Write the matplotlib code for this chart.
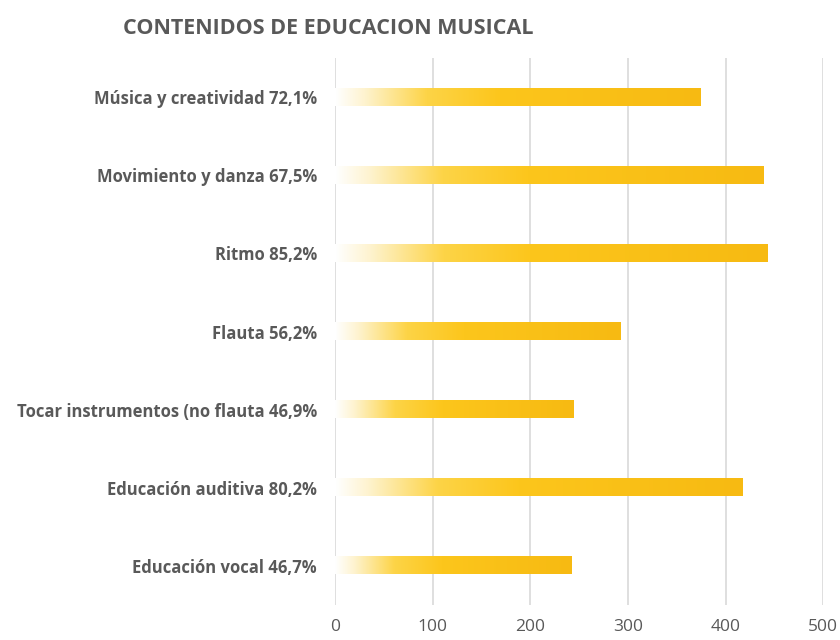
import matplotlib
matplotlib.use("Agg")
import matplotlib.pyplot as plt
import numpy as np
from matplotlib.colors import LinearSegmentedColormap

plt.rcParams['font.family'] = ['Open Sans', 'DejaVu Sans']

categorias = ["Música y creatividad 72,1%",
              "Movimiento y danza 67,5%",
              "Ritmo 85,2%",
              "Flauta 56,2%",
              "Tocar instrumentos (no flauta 46,9%",
              "Educación auditiva 80,2%",
              "Educación vocal 46,7%"]
valores = [374, 439, 443, 292, 244, 417, 242]
ticks_x = [0, 100, 200, 300, 400, 500]

gris = "#595959"
degradado = LinearSegmentedColormap.from_list(
    "oro", [(0.0, "#FFFFFF"), (0.08, "#FEF3CF"), (0.25, "#FDD447"),
            (0.45, "#FCC61C"), (1.0, "#F7BA12")])

fig = plt.figure(figsize=(8.4, 6.4), dpi=100)
ax = fig.add_axes([0.399, 0.055, 0.581, 0.854])

y = np.arange(len(categorias))
alto = 0.22
barras = ax.barh(y, valores, height=alto, color="none", edgecolor="none", zorder=3)

# relleno degradado de cada barra
grad = np.linspace(0, 1, 256).reshape(1, -1)
for b in barras:
    x0, y0 = b.get_x(), b.get_y()
    w, h = b.get_width(), b.get_height()
    ax.imshow(grad, cmap=degradado, aspect="auto", extent=[x0, x0 + w, y0, y0 + h],
              zorder=3, interpolation="bilinear")

ax.set_xlim(0, 500)
ax.set_ylim(len(categorias) - 0.5, -0.5)
ax.set_yticks(y)
ax.set_yticklabels(categorias, fontsize=12, fontweight="bold", color=gris)
ax.set_xticks(ticks_x)
ax.set_xticklabels([str(t) for t in ticks_x], fontsize=12.5, color=gris)
ax.tick_params(axis="both", length=0)
ax.tick_params(axis="x", pad=10)
ax.tick_params(axis="y", pad=13)

for s in ax.spines.values():
    s.set_visible(False)
ax.grid(axis="x", color="#D9D9D9", linewidth=1.2, zorder=0)
ax.set_axisbelow(True)

fig.text(0.146, 0.955, "CONTENIDOS DE EDUCACION MUSICAL", fontsize=15.5, fontweight="bold",
         color=gris, ha="left", va="center")

fig.savefig("out.png", dpi=100, facecolor="white")
